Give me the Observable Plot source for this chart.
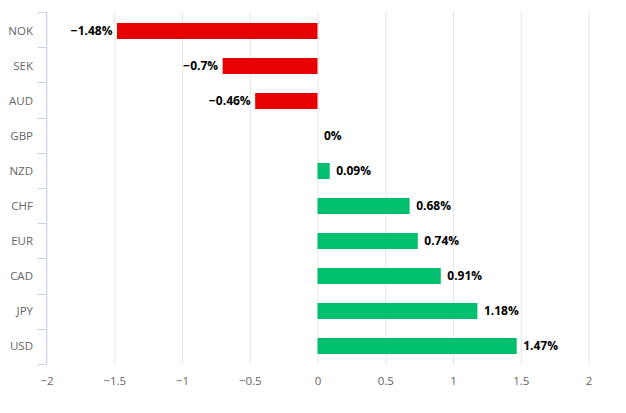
<!DOCTYPE html>
<html><head><meta charset="utf-8">
<script src="https://cdn.jsdelivr.net/npm/d3@7"></script>
<script src="https://cdn.jsdelivr.net/npm/@observablehq/plot@0.6"></script>
<style>body{margin:0;background:#fff;} svg{font-family:"Open Sans",sans-serif;}</style>
</head><body><div id="chart"></div>
<script>
const currencies = ["NOK","SEK","AUD","GBP","NZD","CHF","EUR","CAD","JPY","USD"];
const changes = [-1.48,-0.7,-0.46,0,0.09,0.68,0.74,0.91,1.18,1.47];
const xTicks = [-2,-1.5,-1,-0.5,0,0.5,1,1.5,2];
const data = currencies.map((c,i)=>({c, v: changes[i]}));
const neg = data.filter(d => d.v < 0);
const pos = data.filter(d => d.v >= 0);
const fmt = v => (v < 0 ? "\u2212" + Math.abs(v) : String(v)) + "%";

const bandTicks = (index, scales, values, dims) => {
  const g = d3.create("svg:g");
  const x0 = 46.5;
  const top = dims.marginTop;
  const step = (dims.height - dims.marginTop - dims.marginBottom) / currencies.length;
  for (let i = 0; i <= currencies.length; i++) {
    const yy = Math.round(top + i * step) + 0.5;
    g.append("line").attr("x1", x0 - 9).attr("x2", x0).attr("y1", yy).attr("y2", yy)
      .attr("stroke", "#ccd6eb");
  }
  g.append("line").attr("x1", x0).attr("x2", x0).attr("y1", top).attr("y2", dims.height - dims.marginBottom).attr("stroke", "#ccd6eb");
  return g.node();
};

const chart = Plot.plot({
  width: 626, height: 413,
  marginLeft: 46.5, marginRight: 37.5, marginTop: 12, marginBottom: 49,
  x: {domain: [-2, 2], ticks: xTicks, label: null},
  y: {domain: currencies, paddingInner: 0.55, paddingOuter: 0.275, label: null},
  marks: [
    Plot.gridX(xTicks, {stroke: "#e6e6e6", strokeOpacity: 1}),
    Plot.axisX(xTicks, {tickSize: 0, tickPadding: 12, fill: "#666", fontSize: 11.5, tickFormat: d => d < 0 ? "\u2212" + Math.abs(d) : String(d)}),
    Plot.axisY({tickSize: 0, tickPadding: 14, fill: "#666", fontSize: 11.5}),
    Plot.barX(data, {x: "v", y: "c", fill: d => d.v < 0 ? "#e60000" : "#00bf6f"}),
    Plot.text(neg, {x: "v", y: "c", text: d => fmt(d.v), textAnchor: "end", dx: -5,
      fontWeight: "bold", fontSize: 12, fill: "#000"}),
    Plot.text(pos, {x: "v", y: "c", text: d => fmt(d.v), textAnchor: "start", dx: 6,
      fontWeight: "bold", fontSize: 12, fill: "#000"}),
    bandTicks
  ]
});
document.getElementById("chart").append(chart);
</script></body></html>
